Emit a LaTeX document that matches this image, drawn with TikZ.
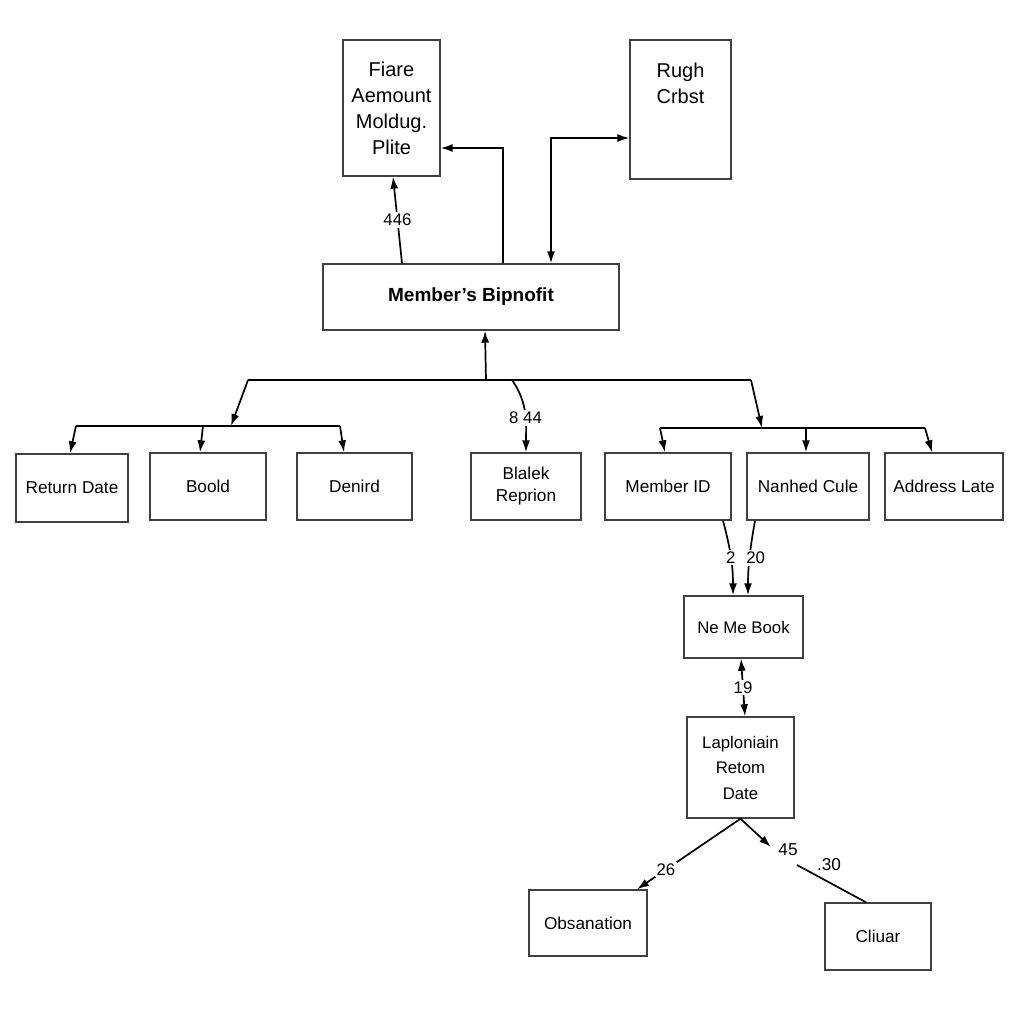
\documentclass[tikz,border=0pt]{standalone}
\usepackage{fontspec}
\setmainfont{Liberation Sans}
\usetikzlibrary{positioning}
\usetikzlibrary{arrows.meta}
\usetikzlibrary{calc}
\tikzset{
    every node/.append style={font=\fontsize{8.6}{11}\selectfont},
    box/.style={draw=black!75, line width=0.7pt, align=center, inner sep=1pt},
    wire/.style={line width=0.85pt},
    link/.style={-{Latex[length=6pt,width=4pt]}, line width=0.85pt},
    twoway/.style={{Latex[length=6pt,width=4pt]}-{Latex[length=6pt,width=4pt]}, line width=0.85pt},
    num/.style={fill=white, inner sep=1pt, font=\fontsize{8.4}{10}\selectfont},
    x=0.5pt, y=-0.5pt
}

\begin{document}
\begin{tikzpicture}
\useasboundingbox (0,0) rectangle (1024,1024);
\node[box, minimum width=48.5pt, minimum height=68pt, font=\fontsize{10}{13}\selectfont] (Fiare) at (391.5,108) {Fiare\\Aemount\\Moldug.\\Plite};
\node[box, minimum width=50.5pt, minimum height=69.5pt, font=\fontsize{10}{13}\selectfont] (Rugh) at (680.5,109.5) {Rugh\\Crbst\\\mbox{}\\\mbox{}};
\node[box, minimum width=148pt, minimum height=33pt, font=\fontsize{9.5}{12}\selectfont\bfseries] (Bip) at (471,297) {Member's Bipnofit};

\node[box, minimum width=56pt, minimum height=34pt] (RetDate) at (72,488) {Return Date};
\node[box, minimum width=58pt, minimum height=33.5pt] (Boold) at (208,486.5) {Boold};
\node[box, minimum width=57.5pt, minimum height=33.5pt] (Denird) at (354.5,486.5) {Denird};
\node[box, minimum width=55pt, minimum height=33.5pt] (Blalek) at (526,486.5) {Blalek\\Reprion};
\node[box, minimum width=63pt, minimum height=33.5pt] (MemID) at (668,486.5) {Member ID};
\node[box, minimum width=61pt, minimum height=33.5pt] (Nanhed) at (808,486.5) {Nanhed Cule};
\node[box, minimum width=59pt, minimum height=33.5pt] (Address) at (944,486.5) {Address Late};

\node[box, minimum width=59.5pt, minimum height=31pt, font=\fontsize{8.4}{11}\selectfont] (NeMe) at (743.5,627) {Ne Me Book};
\node[box, minimum width=53.5pt, minimum height=50.5pt, font=\fontsize{8.4}{12.75}\selectfont] (Lap) at (740.5,767.5) {Laploniain\\Retom\\Date};
\node[box, minimum width=59pt, minimum height=33pt] (Obs) at (588,923) {Obsanation};
\node[box, minimum width=53pt, minimum height=33.5pt] (Cliuar) at (878,936.5) {Cliuar};

\draw[link] ($(Bip.north)+(-69,0)$) -- node[num, midway] {446} ($(Fiare.south)+(1.5,0)$);
\draw[link] ($(Bip.north)+(32,0)$) |- ($(Fiare.east)+(0,40)$);
\draw[twoway] ($(Rugh.west)+(0,28.5)$) -| ($(Bip.north)+(80,0)$);

\coordinate (BusL) at (248,380);
\coordinate (BusR) at (751,380);
\coordinate (BusC) at (486,380);
\coordinate (BusB) at (512,380);
\draw[wire] (BusL) -- (BusR);
\draw[link] (BusC) -- ($(Bip.south)+(14,0)$);
\draw[link] (BusB) to[out=-55, in=90] node[num, pos=0.55] {8 44} (Blalek.north);

\coordinate (SubLa) at (76,426);
\coordinate (SubLm) at (231,426);
\coordinate (SubLc) at (203,426);
\coordinate (SubLb) at (340,426);
\draw[link] (BusL) -- (SubLm);
\draw[wire] (SubLa) -- (SubLb);
\draw[link] (SubLa) -- ($(RetDate.north)+(-2,0)$);
\draw[link] (SubLc) -- ($(Boold.north)+(-8,0)$);
\draw[link] (SubLb) -- ($(Denird.north)+(-10.5,0)$);

\coordinate (SubRa) at (660,428);
\coordinate (SubRm) at (762,428);
\coordinate (SubRc) at (806,428);
\coordinate (SubRb) at (925,428);
\draw[link] (BusR) -- (SubRm);
\draw[wire] (SubRa) -- (SubRb);
\draw[link] (SubRa) -- ($(MemID.north)+(-3,0)$);
\draw[link] (SubRc) -- ($(Nanhed.north)+(-2,0)$);
\draw[link] (SubRb) -- ($(Address.north)+(-12,0)$);

\draw[link] ($(MemID.south)+(55,0)$) to[out=-75, in=90] node[num, pos=0.5] {2} ($(NeMe.north)+(-10.5,0)$);
\draw[link] ($(Nanhed.south)+(-53,0)$) to[out=-100, in=90] node[num, pos=0.5, xshift=3pt] {20} ($(NeMe.north)+(4.5,0)$);
\draw[twoway] ($(NeMe.south)+(-2.5,0)$) -- node[num, midway] {19} ($(Lap.north)+(4.5,0)$);

\draw[link] (Lap.south) -- node[num, pos=0.72] {26} ($(Obs.north)+(49,0)$);
\coordinate (C45) at (771,847);
\coordinate (C30) at (797,865);
\draw[link] (Lap.south) -- (C45);
\node (L45) at (788,850) {45};
\node (L30) at (829,865) {.30};
\draw[wire] (C30) -- ($(Cliuar.north)+(-12,0)$);
\end{tikzpicture}
\end{document}
